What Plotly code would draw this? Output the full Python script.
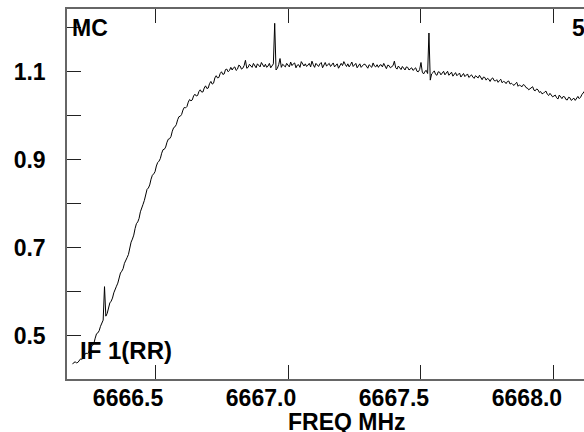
import plotly.graph_objects as go

# Spectrum channels (MHz): start frequency and channel width
FREQ_START = 6666.19
CHAN_WIDTH = 0.005

# Flux values, one per channel
flux = [
    0.436, 0.440, 0.441, 0.439, 0.440, 0.445, 0.448, 0.447, 0.450, 0.457,
    0.461, 0.460, 0.462, 0.470, 0.476, 0.478, 0.483, 0.495, 0.505, 0.507,
    0.512, 0.522, 0.530, 0.536, 0.612, 0.545, 0.551, 0.564, 0.575, 0.579,
    0.586, 0.598, 0.608, 0.613, 0.620, 0.633, 0.643, 0.647, 0.653, 0.665,
    0.674, 0.678, 0.685, 0.700, 0.713, 0.720, 0.729, 0.744, 0.755, 0.759,
    0.767, 0.782, 0.793, 0.799, 0.808, 0.822, 0.833, 0.836, 0.843, 0.856,
    0.865, 0.868, 0.873, 0.886, 0.894, 0.897, 0.903, 0.915, 0.923, 0.924,
    0.929, 0.940, 0.947, 0.948, 0.953, 0.965, 0.973, 0.975, 0.980, 0.991,
    0.998, 0.999, 1.003, 1.013, 1.019, 1.018, 1.021, 1.031, 1.037, 1.034,
    1.036, 1.045, 1.049, 1.045, 1.046, 1.055, 1.059, 1.054, 1.054, 1.063,
    1.068, 1.062, 1.063, 1.073, 1.078, 1.072, 1.074, 1.086, 1.091, 1.086,
    1.087, 1.096, 1.100, 1.094, 1.095, 1.105, 1.106, 1.100, 1.103, 1.110,
    1.104, 1.109, 1.111, 1.103, 1.106, 1.115, 1.113, 1.106, 1.108, 1.114,
    1.126, 1.108, 1.110, 1.117, 1.114, 1.110, 1.119, 1.113, 1.109, 1.118,
    1.115, 1.111, 1.121, 1.116, 1.111, 1.117, 1.110, 1.113, 1.119, 1.109,
    1.113, 1.118, 1.210, 1.104, 1.108, 1.116, 1.130, 1.110, 1.117, 1.113,
    1.111, 1.119, 1.114, 1.111, 1.122, 1.114, 1.118, 1.120, 1.109, 1.115,
    1.116, 1.110, 1.123, 1.117, 1.113, 1.118, 1.112, 1.115, 1.119, 1.111,
    1.124, 1.116, 1.110, 1.119, 1.115, 1.112, 1.118, 1.121, 1.109, 1.114,
    1.121, 1.113, 1.117, 1.119, 1.112, 1.116, 1.120, 1.111, 1.114, 1.118,
    1.108, 1.115, 1.119, 1.114, 1.123, 1.117, 1.112, 1.118, 1.111, 1.116,
    1.122, 1.112, 1.115, 1.119, 1.109, 1.114, 1.118, 1.110, 1.113, 1.117,
    1.117, 1.112, 1.108, 1.116, 1.114, 1.110, 1.120, 1.113, 1.111, 1.116,
    1.110, 1.115, 1.116, 1.111, 1.119, 1.112, 1.107, 1.115, 1.114, 1.109,
    1.111, 1.114, 1.124, 1.109, 1.106, 1.113, 1.109, 1.105, 1.112, 1.108,
    1.104, 1.111, 1.110, 1.104, 1.107, 1.109, 1.103, 1.106, 1.109, 1.101,
    1.100, 1.105, 1.121, 1.099, 1.095, 1.101, 1.103, 1.096, 1.188, 1.081,
    1.095, 1.098, 1.102, 1.094, 1.092, 1.100, 1.099, 1.093, 1.096, 1.101,
    1.093, 1.097, 1.101, 1.092, 1.095, 1.099, 1.090, 1.094, 1.098, 1.091,
    1.094, 1.097, 1.088, 1.093, 1.096, 1.089, 1.091, 1.095, 1.087, 1.090,
    1.093, 1.088, 1.085, 1.091, 1.089, 1.086, 1.092, 1.087, 1.082, 1.088,
    1.087, 1.081, 1.085, 1.083, 1.078, 1.084, 1.086, 1.080, 1.079, 1.082,
    1.076, 1.080, 1.083, 1.075, 1.078, 1.077, 1.073, 1.078, 1.079, 1.072,
    1.074, 1.071, 1.069, 1.073, 1.076, 1.067, 1.070, 1.068, 1.066, 1.071,
    1.069, 1.064, 1.063, 1.059, 1.061, 1.064, 1.066, 1.058, 1.057, 1.061,
    1.059, 1.053, 1.055, 1.050, 1.051, 1.054, 1.056, 1.049, 1.046, 1.051,
    1.048, 1.043, 1.045, 1.047, 1.041, 1.038, 1.047, 1.042, 1.039, 1.044,
    1.043, 1.037, 1.036, 1.042, 1.041, 1.035, 1.038, 1.040, 1.035, 1.041,
    1.044, 1.039, 1.042, 1.048, 1.052, 1.056, 1.060,
]
freq = [round(FREQ_START + CHAN_WIDTH * i, 4) for i in range(len(flux))]

x_tick_vals = [6666.5, 6667.0, 6667.5, 6668.0]
x_tick_text = ["6666.5", "6667.0", "6667.5", "6668.0"]
y_tick_vals = [0.5, 0.6, 0.7, 0.8, 0.9, 1.0, 1.1, 1.2]
y_tick_text = ["0.5", "", "0.7", "", "0.9", "", "1.1", ""]

FONT = "Liberation Sans, Arial, sans-serif"
tick_font = dict(family=FONT, size=23, weight="bold", color="black")

fig = go.Figure()
fig.add_trace(go.Scatter(x=freq, y=flux, mode="lines",
                         line=dict(color="black", width=1), showlegend=False))

fig.update_layout(
    width=584, height=432,
    margin=dict(l=67, r=0, t=9, b=53),
    paper_bgcolor="white", plot_bgcolor="white",
    font=dict(family=FONT, size=23, color="black"),
    xaxis=dict(range=[6666.169, 6668.113], tickvals=x_tick_vals, ticktext=x_tick_text,
               ticks="inside", ticklen=14, tickwidth=1, tickcolor="#222",
               showline=True, linecolor="#666", linewidth=1.5, mirror="ticks",
               showgrid=False, zeroline=False, ticklabelshift=-27,
               ticklabelstandoff=-2, tickfont=tick_font),
    yaxis=dict(range=[0.4023, 1.2425], tickvals=y_tick_vals, ticktext=y_tick_text,
               ticks="inside", ticklen=14, tickwidth=1, tickcolor="#222",
               showline=True, linecolor="#666", linewidth=1.5,
               showgrid=False, zeroline=False, ticklabelstandoff=15,
               tickfont=tick_font),
)

ann_font = dict(family=FONT, size=23, weight="bold", color="black")
fig.add_annotation(text="MC", xref="paper", yref="y", x=0.006, y=1.2,
                   xanchor="left", yanchor="middle", showarrow=False, font=ann_font)
fig.add_annotation(text="5", xref="paper", yref="y", x=0.972, y=1.2,
                   xanchor="left", yanchor="middle", showarrow=False, font=ann_font)
fig.add_annotation(text="IF 1(RR)", xref="paper", yref="y", x=0.022, y=0.467,
                   xanchor="left", yanchor="middle", showarrow=False,
                   font=dict(family=FONT, size=24, weight="bold", color="black"))
fig.add_annotation(text="FREQ MHz", xref="paper", yref="paper", x=0.5416, y=-0.115,
                   xanchor="center", yanchor="middle", showarrow=False, font=ann_font)

# place the figure flush with the window corner (no default body margin)
fig.write_html("out.html",
               config={"displayModeBar": False},
               post_script="document.body.style.margin='0';"
                           "document.body.style.overflow='hidden';")
